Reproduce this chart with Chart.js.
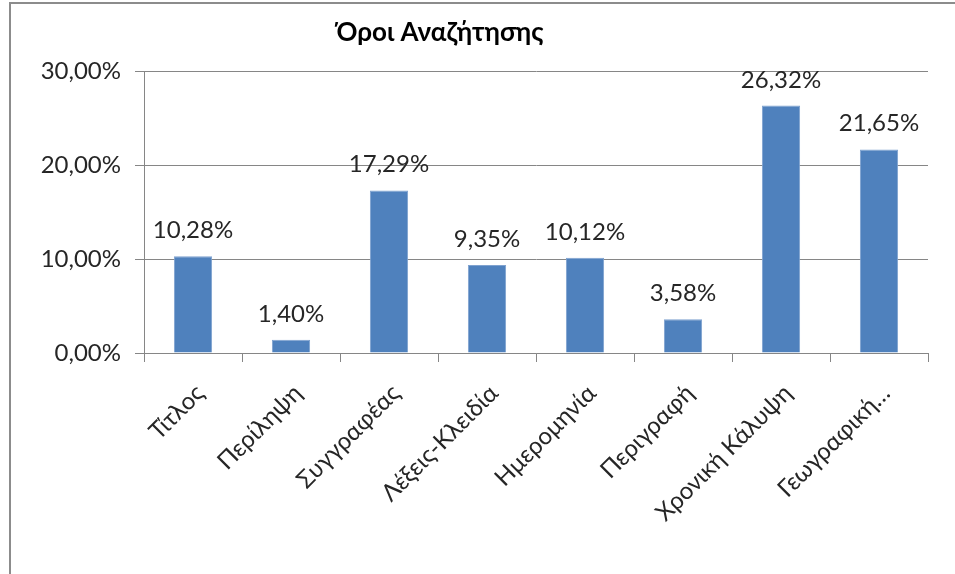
<!DOCTYPE html>
<html>
<head>
<meta charset="utf-8">
<script src="https://cdn.jsdelivr.net/npm/chart.js@4/dist/chart.umd.min.js"></script>
<style>
  html, body { margin: 0; padding: 0; background: #fff; overflow: hidden; }
  #frame { position: absolute; left: 9px; top: 2px; width: 1200px; height: 900px; border: 2px solid #8c8c8c; box-sizing: border-box; }
  #wrap { position: absolute; left: 0; top: 0; width: 955px; height: 574px; }
</style>
</head>
<body>
<div id="frame"></div>
<div id="wrap"><canvas id="c" width="955" height="574"></canvas></div>
<script>
const chartTitle = 'Όροι Αναζήτησης';
const categories = ['Τίτλος', 'Περίληψη', 'Συγγραφέας', 'Λέξεις-Κλειδία', 'Ημερομηνία', 'Περιγραφή', 'Χρονική Κάλυψη', 'Γεωγραφική…'];
const values = [10.28, 1.40, 17.29, 9.35, 10.12, 3.58, 26.32, 21.65];
const yTicks = [0, 10, 20, 30];

const FONT = 'Lato, "Open Sans", sans-serif';
const TEXT = '#262626';
const GRID = '#868686';

function pct(v) { return v.toFixed(2).replace('.', ',') + '%'; }

const titlePlugin = {
  id: 'freeTitle',
  afterDraw(chart) {
    const ctx = chart.ctx;
    ctx.save();
    ctx.font = 'bold 26px ' + FONT;
    ctx.fillStyle = '#000';
    ctx.textAlign = 'center';
    ctx.textBaseline = 'middle';
    ctx.fillText(chartTitle, 440, 33);
    ctx.restore();
  }
};

const valueLabels = {
  id: 'valueLabels',
  afterDatasetsDraw(chart) {
    const ctx = chart.ctx;
    const meta = chart.getDatasetMeta(0);
    ctx.save();
    ctx.font = '24px ' + FONT;
    ctx.fillStyle = TEXT;
    ctx.textAlign = 'center';
    ctx.textBaseline = 'alphabetic';
    meta.data.forEach((bar, i) => {
      ctx.fillText(pct(values[i]), bar.x, bar.y - 18);
    });
    ctx.restore();
  }
};

new Chart(document.getElementById('c'), {
  type: 'bar',
  data: {
    labels: categories,
    datasets: [{
      data: values,
      backgroundColor: '#4F81BD',
      borderColor: '#7FA2CF',
      borderWidth: 1,
      barPercentage: 0.39,
      categoryPercentage: 1.0
    }]
  },
  options: {
    responsive: false,
    animation: false,
    devicePixelRatio: 1,
    layout: { padding: { top: 71, right: 27, left: 0, bottom: 0 } },
    plugins: {
      legend: { display: false },
      title: { display: false },
      tooltip: { enabled: false }
    },
    scales: {
      y: {
        min: 0,
        max: 30,
        afterFit(s) { s.width = 144; },
        afterBuildTicks(s) { s.ticks = yTicks.map(v => ({ value: v })); },
        ticks: {
          callback: v => pct(v),
          font: { family: FONT, size: 24 },
          color: TEXT,
          padding: 14
        },
        grid: { color: GRID, tickLength: 9, lineWidth: 1 },
        border: { color: GRID, width: 1 }
      },
      x: {
        afterFit(s) { s.height = 221; },
        ticks: {
          autoSkip: false,
          maxRotation: 45,
          minRotation: 45,
          font: { family: FONT, size: 24 },
          color: TEXT,
          padding: 17,
          labelOffset: 7
        },
        grid: { offset: true, drawOnChartArea: false, color: GRID, tickLength: 9 },
        border: { color: GRID, width: 1 }
      }
    }
  },
  plugins: [titlePlugin, valueLabels]
});
</script>
</body>
</html>
